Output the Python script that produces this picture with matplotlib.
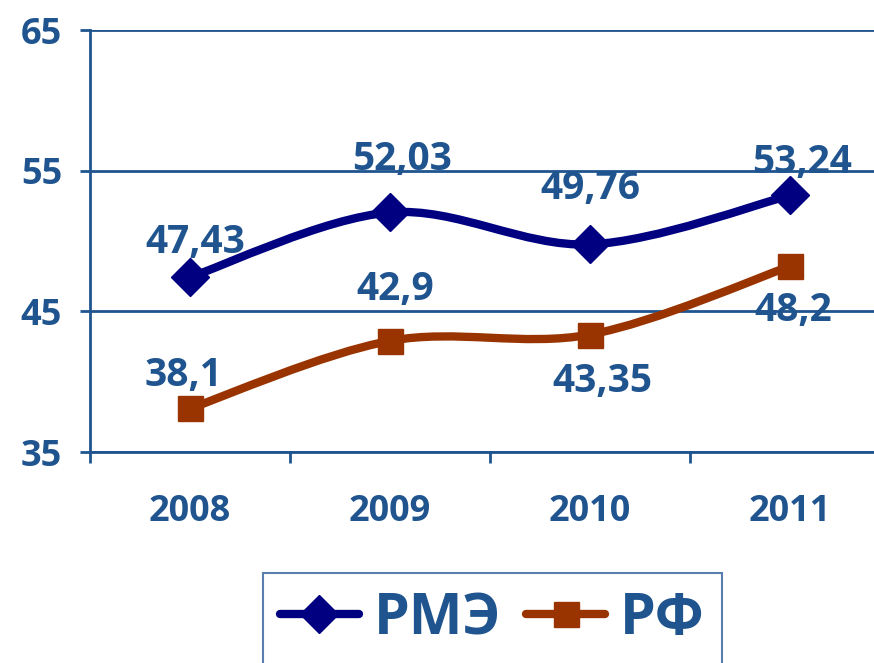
import matplotlib
import numpy as np

matplotlib.use("Agg")
import matplotlib.pyplot as plt
from matplotlib.lines import Line2D
from matplotlib.patches import PathPatch
from matplotlib.path import Path

plt.rcParams["font.family"] = ["Open Sans", "DejaVu Sans"]
plt.rcParams["font.weight"] = "bold"

years = ["2008", "2009", "2010", "2011"]
rme = [47.43, 52.03, 49.76, 53.24]
rf = [38.1, 42.9, 43.35, 48.2]
rme_labels = ["47,43", "52,03", "49,76", "53,24"]
rf_labels = ["38,1", "42,9", "43,35", "48,2"]

TEXT = "#1F548F"
BLUE = "#000080"
RUST = "#993300"


def smooth_path(xs, ys):
    # Excel-style smoothed line: cubic Bezier segments through the points
    pts = np.column_stack([xs, ys]).astype(float)
    n = len(pts)
    verts = [pts[0]]
    codes = [Path.MOVETO]
    for i in range(n - 1):
        p0 = pts[max(i - 1, 0)]
        p1 = pts[i]
        p2 = pts[i + 1]
        p3 = pts[min(i + 2, n - 1)]
        c1 = p1 + (p2 - p0) / 6.0
        c2 = p2 - (p3 - p1) / 6.0
        verts += [c1, c2, p2]
        codes += [Path.CURVE4] * 3
    return Path(verts, codes)


fig = plt.figure(figsize=(8.74, 6.63), dpi=100)
ax = fig.add_axes([90 / 874, 1 - 452 / 663, 800 / 874, 422 / 663])

x = np.arange(len(years))
for vals, color, marker, ms in [(rme, BLUE, "D", 19), (rf, RUST, "s", 18)]:
    ax.add_patch(PathPatch(smooth_path(x, vals), facecolor="none", edgecolor=color,
                           linewidth=6, capstyle="round", joinstyle="round", zorder=3))
    ax.plot(x, vals, linestyle="none", marker=marker, markersize=ms, color=color, zorder=4)

label_kw = dict(textcoords="offset points", ha="center", va="center",
                fontsize=28, fontweight="bold", color=TEXT, zorder=5)
rme_off = [(4, 25), (9, 38), (0, 40), (9, 24)]
rf_off = [(-5, 24), (4, 37), (9, -34), (2, -32)]
for xi, v, s, off in zip(x, rme, rme_labels, rme_off):
    ax.annotate(s, (xi, v), xytext=off, **label_kw)
for xi, v, s, off in zip(x, rf, rf_labels, rf_off):
    ax.annotate(s, (xi, v), xytext=off, **label_kw)

ax.set_xlim(-0.5, 3.5)
ax.set_ylim(35, 65)
ax.set_yticks([35, 45, 55, 65])
ax.set_xticks(x)
ax.set_xticklabels(years)
ax.set_xticks(np.arange(-0.5, 4, 1), minor=True)

ax.grid(axis="y", color=TEXT, linewidth=2)
ax.set_axisbelow(True)
for side in ["top", "right"]:
    ax.spines[side].set_visible(False)
for side in ["left", "bottom"]:
    ax.spines[side].set_color(TEXT)
    ax.spines[side].set_linewidth(2)

ax.tick_params(axis="y", length=7, width=2, color=TEXT, pad=13,
               labelsize=26, labelcolor=TEXT)
ax.tick_params(axis="x", which="major", length=0, pad=30,
               labelsize=26, labelcolor=TEXT)
ax.tick_params(axis="x", which="minor", length=8, width=2, color=TEXT)
for lbl in ax.get_xticklabels() + ax.get_yticklabels():
    lbl.set_fontweight("bold")

handles = [
    Line2D([], [], color=BLUE, linewidth=6, marker="D", markersize=19, solid_capstyle="round"),
    Line2D([], [], color=RUST, linewidth=6, marker="s", markersize=18, solid_capstyle="round"),
]
leg = fig.legend(handles, ["РМЭ", "РФ"], loc="upper left",
                 bbox_to_anchor=(263 / 874, 1 - 573 / 663), borderaxespad=0,
                 ncol=2, fontsize=41, frameon=True, fancybox=False,
                 handlelength=1.38, handletextpad=0.26, columnspacing=0.45,
                 borderpad=0.3)
leg.get_frame().set_edgecolor("#2F5F9A")
leg.get_frame().set_linewidth(1.5)
for t in leg.get_texts():
    t.set_color(TEXT)
    t.set_fontweight("bold")

fig.savefig("out.png", dpi=100)
